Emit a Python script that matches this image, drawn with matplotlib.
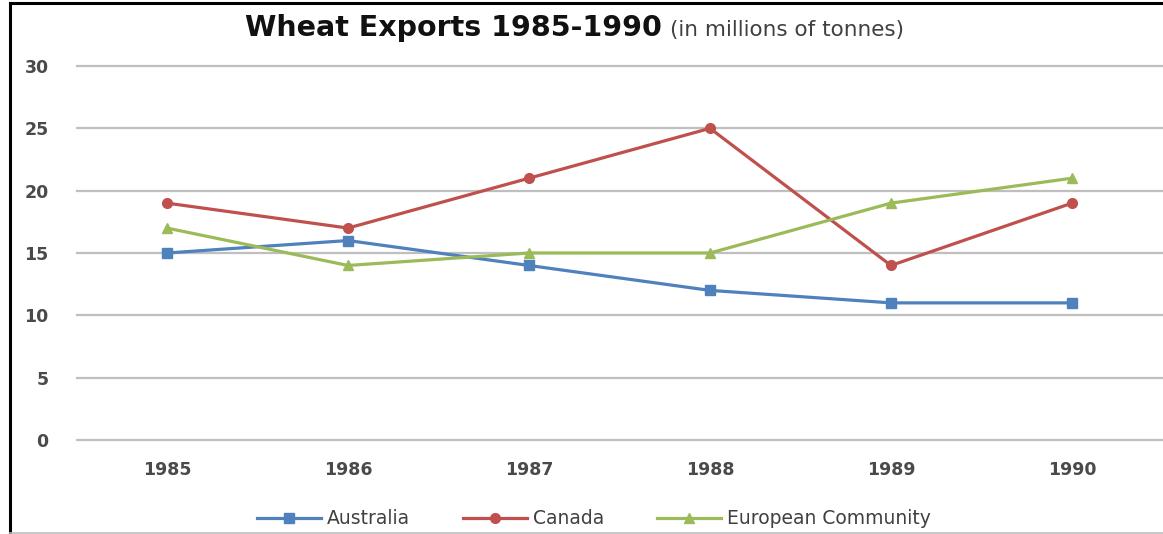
import matplotlib
matplotlib.use("Agg")
import matplotlib.pyplot as plt
from matplotlib.lines import Line2D

years = ["1985", "1986", "1987", "1988", "1989", "1990"]
australia = [15, 16, 14, 12, 11, 11]
canada = [19, 17, 21, 25, 14, 19]
european_community = [17, 14, 15, 15, 19, 21]
y_ticks = [0, 5, 10, 15, 20, 25, 30]

W, H = 1163, 534
fig = plt.figure(figsize=(W / 100, H / 100), dpi=100)
fig.patch.set_facecolor("white")

ax = fig.add_axes([76.5 / W, (H - 440) / H, 1086 / W, 374 / H])
x = list(range(len(years)))

series = [
    ("Australia", australia, "#4F81BD", "s"),
    ("Canada", canada, "#C0504D", "o"),
    ("European Community", european_community, "#9BBB59", "^"),
]
for name, vals, col, mk in series:
    ax.plot(x, vals, color=col, lw=2.3, marker=mk, markersize=7,
            markerfacecolor=col, markeredgecolor=col, label=name,
            zorder=3, clip_on=False)

ax.set_xlim(-0.5, 5.5)
ax.set_ylim(0, 30)
ax.set_yticks(y_ticks)
ax.set_xticks(x)
ax.set_xticklabels(years)
for s in ax.spines.values():
    s.set_visible(False)
ax.tick_params(length=0)
ax.tick_params(axis="y", pad=20, labelsize=12.5, labelcolor="#4a4a4a")
ax.tick_params(axis="x", pad=15, labelsize=12.5, labelcolor="#4a4a4a")
for lab in ax.get_xticklabels() + ax.get_yticklabels():
    lab.set_fontweight("bold")
for t in ax.get_yticks():
    ax.axhline(t, color="#BFBFBF", lw=1.6, zorder=1, clip_on=False)

# Title: bold heading followed by lighter unit note
title = fig.text(245 / W, 1 - 36 / H, "Wheat Exports 1985-1990", fontsize=20.5,
                 fontweight="bold", color="#111111", ha="left", va="baseline")
renderer = fig.canvas.get_renderer()
title_end = title.get_window_extent(renderer).x1
fig.text((title_end + 8) / W, 1 - 36 / H, "(in millions of tonnes)",
         fontsize=15.5, color="#404040", ha="left", va="baseline")

leg = fig.legend(loc="center", bbox_to_anchor=(594 / W, 1 - 519 / H), ncol=3,
                 frameon=False, fontsize=13.5, handlelength=3.4,
                 columnspacing=2.8, handletextpad=0.35, labelcolor="#404040")

# Frame edges
fig.add_artist(Line2D([10 / W, 10 / W], [0, 1 - 3 / H], color="black", lw=2.2,
                      transform=fig.transFigure))
fig.add_artist(Line2D([10 / W, 1], [1 - 3 / H, 1 - 3 / H], color="black", lw=2.2,
                      transform=fig.transFigure))
fig.add_artist(Line2D([10 / W, 1], [1.5 / H, 1.5 / H], color="#BFBFBF", lw=1.2,
                      transform=fig.transFigure))

fig.savefig("out.png", dpi=100, facecolor="white")
